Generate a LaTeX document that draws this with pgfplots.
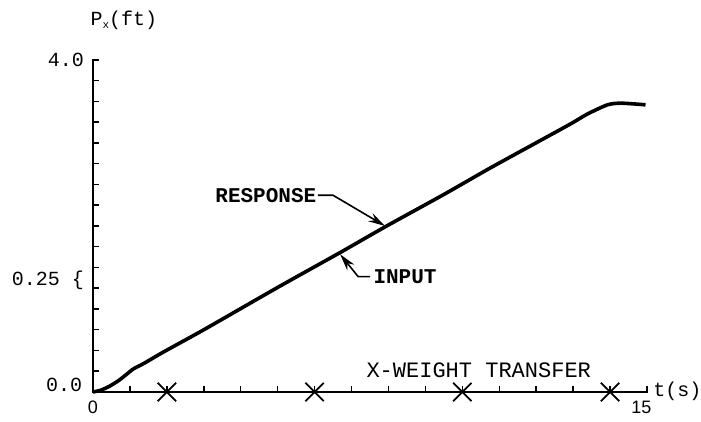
\documentclass[border=0pt]{standalone}
\usepackage{fontspec}
\setmainfont{Liberation Mono}
\newfontfamily\sansf{Liberation Sans}
\usepackage{pgfplots}
\pgfplotsset{compat=1.18}
\usetikzlibrary{arrows.meta}

\begin{document}
\begin{tikzpicture}
\useasboundingbox (-93pt,-30pt) rectangle (608pt,392pt);
\begin{axis}[
    at={(0,0)}, anchor=south west,
    scale only axis, width=554pt, height=332pt,
    xmin=0, xmax=15, ymin=0, ymax=4,
    axis line style={draw=none},
    xtick={0,1,...,15}, ytick={0,0.25,...,4},
    xticklabel=\empty, yticklabel=\empty,
    tick pos=left, tick align=inside,
    major tick length=6pt,
    tick style={line width=1.5pt, black},
    clip=false,
]
% axis lines
\draw[line width=1.8pt, line cap=rect] (axis cs:0,4) -- (axis cs:0,0) -- (axis cs:15,0);
% response curve
\addplot[black, line width=3.6pt, smooth, tension=0.4] coordinates {
  (0,0) (0.2,0.02) (0.45,0.07) (0.7,0.14) (0.9,0.21) (1.1,0.28)
  (1.4,0.35) (1.9,0.48) (3.0,0.75) (5,1.26) (6.69,1.68) (7.91,1.99)
  (9.5,2.38) (10.76,2.70) (12.03,3.01) (12.93,3.23) (13.39,3.35)
  (13.93,3.46) (14.3,3.48) (14.96,3.46)
};
% weight transfer instants
\addplot[black, only marks, mark=x, mark size=13pt, line width=1.8pt] coordinates {
  (2,0) (6,0) (10,0) (14,0)
};

% tick labels and axis labels
\node[anchor=east, font=\fontsize{20}{22}\selectfont] at (axis cs:-0.15,4) {4.0};
\node[anchor=east, font=\fontsize{20}{22}\selectfont] at (axis cs:-0.2,0.08) {0.0};
\node[anchor=east, font=\fontsize{20}{22}\selectfont] at (axis cs:-0.15,1.35) {0.25 \{};
\node[font=\sansf\fontsize{18}{20}\selectfont] at (axis cs:0,-0.19) {0};
\node[font=\sansf\fontsize{18}{20}\selectfont] at (axis cs:14.85,-0.19) {15};
\node[anchor=west, font=\fontsize{20}{22}\selectfont] at (axis cs:15.08,0.01) {t(s)};
\node[anchor=west, font=\fontsize{20}{22}\selectfont] at (axis cs:-0.16,4.48)
  {P\raisebox{-3pt}{\fontsize{11}{11}\selectfont x}(ft)};
\node[anchor=west, font=\fontsize{22}{24}\selectfont] at (axis cs:7.31,0.265) {X-WEIGHT TRANSFER};

% annotations
\node[font=\bfseries\fontsize{21}{23}\selectfont] at (axis cs:4.68,2.37) {RESPONSE};
\draw[line width=1.6pt, -{Stealth[length=17pt,width=9pt]}]
  (axis cs:6.09,2.37) -- (axis cs:6.50,2.37) -- (axis cs:7.91,2.0);
\node[anchor=west, font=\bfseries\fontsize{21}{23}\selectfont] at (axis cs:7.5,1.39) {INPUT};
\draw[line width=1.6pt, -{Stealth[length=17pt,width=9pt]}]
  (axis cs:7.5,1.39) -- (axis cs:7.18,1.39) -- (axis cs:6.69,1.66);
\end{axis}
\end{tikzpicture}
\end{document}
